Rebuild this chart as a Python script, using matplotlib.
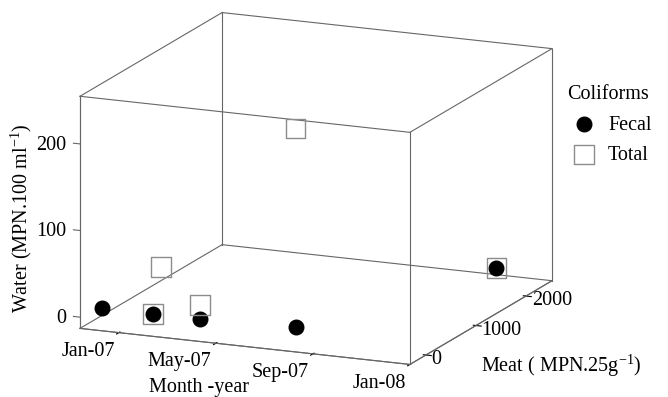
import itertools
import numpy as np
import matplotlib
matplotlib.use('Agg')
import matplotlib.pyplot as plt
from mpl_toolkits.mplot3d import proj3d

plt.rcParams['font.family'] = 'Liberation Serif'
plt.rcParams['mathtext.fontset'] = 'custom'
plt.rcParams['mathtext.rm'] = 'Liberation Serif'

# month axis counted from Jan-07
month_ticks = [0, 4, 8, 12]
month_labels = ['Jan-07', 'May-07', 'Sep-07', 'Jan-08']
meat_ticks = [0, 1000, 2000]
water_ticks = [0, 100, 200]

# samples (month, meat MPN/25g, water MPN/100 ml)
sample_month = [-1.34, 0.76, 2.69, 6.63, 10.0]
fecal_meat = [0, 0, 0, 0, 2380]
fecal_water = [0, 0, 0, 3, 0]
total_meat = [1170, 0, 0, 0, 2380]
total_water = [8, 0, 16, 232, 0]

xlim = (-1.6, 12)
ylim = (-320, 2520)
zlim = (-13, 255)

FS = 14.5
edge_col = '#666666'

fig = plt.figure(figsize=(6.68, 3.97), dpi=100)
ax = fig.add_axes([0.1, 0.1, 0.8, 0.8], projection='3d', proj_type='ortho')
ax.view_init(elev=14.7, azim=-66.7)
ax.set_box_aspect((1, 1, 0.668))
ax.set_xlim(*xlim)
ax.set_ylim(*ylim)
ax.set_zlim(*zlim)

# no panes, no grid
ax.grid(False)
for axis in (ax.xaxis, ax.yaxis, ax.zaxis):
    axis.pane.fill = False
    axis.pane.set_edgecolor((1, 1, 1, 0))
    axis.line.set_color(edge_col)
    axis.line.set_linewidth(0.8)
    axis._axinfo['tick']['color'] = edge_col
    axis._axinfo['tick']['linewidth'] = {True: 0.8, False: 0.8}

ax.set_xticks(month_ticks)
ax.set_xticklabels(month_labels, ha='right')
ax.set_yticks(meat_ticks)
ax.set_yticklabels(meat_ticks, ha='left', va='center')
ax.xaxis.set_tick_params(labelsize=FS, pad=-2)
ax.yaxis.set_tick_params(labelsize=FS, pad=-4.5)

# water axis on the front-left edge, with flat tick marks drawn by hand
ax.zaxis.set_ticks_position('lower')
ax.set_zticks(water_ticks)
ax.set_zticklabels(water_ticks, ha='right', va='center')
ax.zaxis.set_tick_params(labelsize=FS, pad=-2)
ax.zaxis._axinfo['tick']['outward_factor'] = 0
ax.zaxis._axinfo['tick']['inward_factor'] = 0
for w in water_ticks:
    ax.plot([xlim[0] - 0.27, xlim[0]], [ylim[0]] * 2, [w, w], color=edge_col, lw=0.8)

# all 12 box edges
for a, b in itertools.combinations(itertools.product(xlim, ylim, zlim), 2):
    if sum(i != j for i, j in zip(a, b)) == 1:
        ax.plot(*zip(a, b), color=edge_col, lw=0.8)

sq = ax.scatter(sample_month, total_meat, total_water, marker='s', s=200,
                facecolors='none', edgecolors='#8c8c8c', linewidths=1.0,
                depthshade=False, label='Total')
fc = ax.scatter(sample_month, fecal_meat, fecal_water, marker='o', s=110,
                c='black', depthshade=False, label='Fecal')

fig.legend([fc, sq], ['Fecal', 'Total'], title='Coliforms', loc='upper left',
           bbox_to_anchor=(0.844, 0.785), frameon=False, fontsize=FS,
           title_fontsize=FS, handletextpad=0.2, labelspacing=0.55,
           borderaxespad=0, borderpad=0)

fig.text(0.032, 0.45, r'Water (MPN.100 ml$^{-1}$)', rotation=90,
         ha='center', va='center', fontsize=FS)
fig.text(0.298, 0.024, 'Month -year', ha='center', va='center', fontsize=FS)
fig.text(0.84, 0.08, r'Meat ( MPN.25g$^{-1}$)', ha='center', va='center',
         fontsize=FS)

# fit the projected box onto the wanted pixel area
W, H = 668, 397
fig.canvas.draw()
c = np.array(list(itertools.product(xlim, ylim, zlim)))
px, py, _ = proj3d.proj_transform(c[:, 0], c[:, 1], c[:, 2], ax.get_proj())
p = ax.transData.transform(np.column_stack([px, py]))
bb = ax.get_position()
cx, cy, side = (bb.x0 + bb.x1) / 2 * W, (bb.y0 + bb.y1) / 2 * H, bb.width * W
s = (552 - 80) / (p[:, 0].max() - p[:, 0].min())
pcx = (p[:, 0].max() + p[:, 0].min()) / 2
pcy = (p[:, 1].max() + p[:, 1].min()) / 2
ncx = (80 + 552) / 2 - s * (pcx - cx)
ncy = H - (13 + 364) / 2 - s * (pcy - cy)
ns = side * s
ax.set_position([(ncx - ns / 2) / W, (ncy - ns / 2) / H, ns / W, ns / H])

fig.savefig('out.png', dpi=100)
